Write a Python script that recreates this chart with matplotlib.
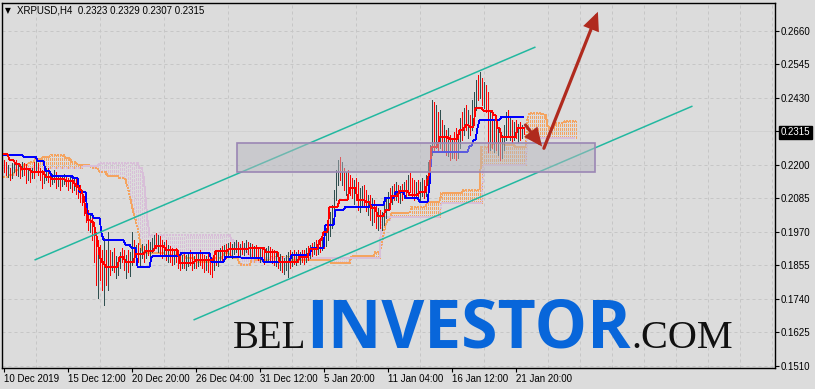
import numpy as np
import matplotlib
matplotlib.use("Agg")
import matplotlib.pyplot as plt
from matplotlib.patches import Rectangle, FancyArrowPatch, ArrowStyle

# ---------------- data (XRPUSD H4) ----------------
open0 = 0.2210
highs = [
    .2217, .2210, .2200, .2190, .2207, .2217, .2217, .2200, .2197, .2210,
    .2207, .2203, .2183, .2183, .2190, .2210, .2217, .2207, .2190, .2183,
    .2176, .2190, .2190, .2176, .2169, .2183, .2176, .2162, .2166, .2162,
    .2169, .2166, .2155, .2162, .2155, .2159, .2155, .2142, .2131, .2114,
    .2094, .2063, .2045, .2028, .2018, .1994, .1970, .1942, .1925, .1908,
    .1949, .1908, .1970, .1908, .1901, .1915, .1887, .1881, .1901, .1915,
    .1908, .1891, .1908, .1901, .1970, .1942, .1925, .1932, .1915, .1929,
    .1922, .1929, .1942, .1935, .1949, .1960, .1966, .1960, .1956, .1942,
    .1935, .1942, .1925, .1922, .1915, .1908, .1915, .1908, .1901, .1891,
    .1901, .1891, .1901, .1908, .1894, .1887, .1894, .1901, .1908, .1901,
    .1891, .1887, .1894, .1881, .1881, .1891, .1908, .1908, .1915, .1922,
    .1925, .1929, .1932, .1935, .1929, .1935, .1942, .1935, .1929, .1939,
    .1932, .1942, .1935, .1932, .1929, .1922, .1925, .1918, .1915, .1915,
    .1908, .1915, .1922, .1918, .1911, .1908, .1901, .1901, .1894, .1887,
    .1881, .1891, .1901, .1908, .1901, .1908, .1901, .1908, .1901, .1908,
    .1908, .1915, .1922, .1925, .1932, .1935, .1942, .1939, .1949, .1956,
    .1963, .1984, .2004, .2039, .2063, .2114, .2183, .2217, .2228, .2210,
    .2190, .2176, .2183, .2166, .2155, .2149, .2155, .2142, .2121, .2128,
    .2131, .2114, .2097, .2097, .2087, .2080, .2063, .2052, .2045, .2039,
    .2063, .2087, .2107, .2121, .2128, .2135, .2142, .2131, .2128, .2135,
    .2142, .2149, .2166, .2173, .2155, .2149, .2142, .2149, .2142, .2155,
    .2149, .2166, .2210, .2269, .2423, .2417, .2406, .2382, .2389, .2355,
    .2337, .2320, .2327, .2303, .2293, .2313, .2327, .2303, .2362, .2382,
    .2396, .2406, .2389, .2372, .2423, .2451, .2492, .2509, .2520, .2499,
    .2485, .2475, .2451, .2389, .2382, .2355, .2337, .2327, .2320, .2303,
    .2337, .2382, .2389, .2362, .2355, .2348, .2355, .2341, .2348, .2337,
    .2329]
lows = [
    .2176, .2166, .2159, .2149, .2155, .2176, .2166, .2162, .2155, .2162,
    .2166, .2138, .2149, .2142, .2155, .2155, .2183, .2166, .2149, .2121,
    .2138, .2149, .2142, .2128, .2135, .2142, .2121, .2128, .2114, .2128,
    .2135, .2128, .2114, .2121, .2107, .2114, .2100, .2087, .2073, .2063,
    .2028, .2004, .1977, .1970, .1942, .1867, .1788, .1743, .1805, .1771,
    .1719, .1788, .1771, .1822, .1839, .1832, .1812, .1822, .1846, .1867,
    .1839, .1812, .1832, .1819, .1856, .1867, .1874, .1867, .1856, .1881,
    .1867, .1881, .1891, .1887, .1901, .1908, .1915, .1901, .1891, .1881,
    .1887, .1874, .1867, .1867, .1856, .1860, .1867, .1846, .1839, .1846,
    .1846, .1839, .1853, .1856, .1839, .1846, .1846, .1853, .1856, .1846,
    .1832, .1839, .1832, .1826, .1815, .1839, .1856, .1853, .1867, .1874,
    .1881, .1881, .1887, .1891, .1881, .1894, .1901, .1887, .1887, .1894,
    .1891, .1901, .1894, .1887, .1887, .1881, .1881, .1874, .1867, .1874,
    .1860, .1867, .1874, .1867, .1863, .1856, .1853, .1846, .1839, .1832,
    .1826, .1839, .1815, .1846, .1853, .1860, .1856, .1867, .1860, .1867,
    .1860, .1867, .1874, .1881, .1887, .1894, .1891, .1894, .1901, .1908,
    .1915, .1922, .1942, .1956, .1984, .2028, .2080, .2131, .2149, .2131,
    .2114, .2097, .2121, .2097, .2087, .2066, .2080, .2045, .2039, .2059,
    .2063, .2042, .2028, .2011, .1994, .2004, .1984, .1977, .1984, .1977,
    .1994, .2018, .2045, .2063, .2066, .2080, .2080, .2073, .2069, .2080,
    .2087, .2087, .2097, .2107, .2087, .2080, .2087, .2094, .2080, .2094,
    .2087, .2094, .2131, .2166, .2234, .2252, .2258, .2252, .2258, .2245,
    .2252, .2234, .2231, .2217, .2224, .2224, .2217, .2224, .2258, .2286,
    .2303, .2320, .2293, .2303, .2320, .2337, .2389, .2423, .2430, .2406,
    .2396, .2382, .2245, .2252, .2258, .2245, .2252, .2234, .2217, .2224,
    .2252, .2286, .2303, .2286, .2279, .2286, .2293, .2279, .2286, .2293,
    .2307]
closes = [
    .2190, .2183, .2190, .2166, .2200, .2210, .2176, .2190, .2169, .2203,
    .2183, .2155, .2176, .2162, .2183, .2176, .2210, .2176, .2159, .2142,
    .2169, .2176, .2155, .2138, .2162, .2173, .2135, .2155, .2149, .2155,
    .2162, .2142, .2128, .2149, .2121, .2142, .2114, .2100, .2087, .2080,
    .2039, .2018, .1994, .2011, .1956, .1891, .1839, .1867, .1832, .1788,
    .1881, .1839, .1891, .1856, .1867, .1846, .1856, .1867, .1887, .1881,
    .1856, .1874, .1846, .1867, .1925, .1891, .1908, .1881, .1891, .1908,
    .1887, .1915, .1908, .1922, .1929, .1942, .1925, .1935, .1908, .1901,
    .1922, .1891, .1908, .1881, .1874, .1894, .1881, .1867, .1856, .1881,
    .1860, .1867, .1881, .1867, .1853, .1874, .1867, .1887, .1874, .1860,
    .1846, .1874, .1853, .1846, .1839, .1881, .1874, .1894, .1901, .1894,
    .1915, .1901, .1922, .1908, .1915, .1922, .1929, .1901, .1915, .1908,
    .1918, .1922, .1908, .1915, .1901, .1908, .1894, .1887, .1901, .1887,
    .1881, .1901, .1908, .1887, .1881, .1867, .1881, .1856, .1867, .1846,
    .1856, .1867, .1887, .1867, .1881, .1874, .1887, .1881, .1891, .1887,
    .1881, .1901, .1894, .1915, .1908, .1922, .1908, .1929, .1922, .1942,
    .1929, .1970, .1990, .2028, .2052, .2097, .2166, .2190, .2166, .2183,
    .2131, .2149, .2135, .2121, .2107, .2131, .2097, .2063, .2087, .2107,
    .2080, .2063, .2080, .2028, .2045, .2018, .2004, .2018, .1994, .2011,
    .2045, .2073, .2094, .2080, .2107, .2100, .2121, .2094, .2107, .2097,
    .2121, .2107, .2142, .2121, .2114, .2097, .2121, .2107, .2114, .2131,
    .2100, .2149, .2190, .2252, .2372, .2286, .2355, .2279, .2320, .2269,
    .2303, .2258, .2286, .2245, .2269, .2252, .2234, .2279, .2337, .2313,
    .2372, .2337, .2355, .2320, .2406, .2423, .2465, .2441, .2485, .2423,
    .2458, .2396, .2286, .2320, .2279, .2303, .2269, .2286, .2234, .2269,
    .2313, .2355, .2320, .2337, .2293, .2327, .2307, .2320, .2300, .2323,
    .2315]

# Ichimoku lines (bar index where the level starts, value)
tenkan_start = [0, 3, 6, 9, 14, 21, 24, 31, 36, 38, 40, 41, 42, 44, 46, 47, 48, 49, 51, 58,
                61, 66, 71, 76, 81, 88, 96, 106, 113, 123, 131, 138, 148, 153, 158, 160,
                163, 168, 173, 177, 181, 184, 187, 191, 194, 198, 203, 208, 212, 213, 214,
                218, 223, 228, 231, 233, 236, 240, 245, 247, 249, 257]
tenkan_value = [.2238, .2217, .2203, .2186, .2176, .2159, .2152, .2145, .2128, .2114, .2087,
                .2052, .2011, .2004, .1970, .1942, .1891, .1867, .1850, .1884, .1867, .1894,
                .1905, .1922, .1908, .1863, .1874, .1905, .1911, .1915, .1901, .1867, .1884,
                .1911, .1942, .1970, .2056, .2080, .2121, .2080, .2073, .2052, .2025, .2045,
                .2094, .2111, .2097, .2107, .2150, .2175, .2262, .2296, .2289, .2320, .2337,
                .2331, .2396, .2386, .2372, .2327, .2296, .2327]
kijun_start = [0, 10, 17, 21, 24, 35, 38, 42, 45, 49, 50, 61, 64, 67, 74, 75, 89, 104, 111,
               119, 130, 144, 154, 161, 166, 171, 184, 191, 196, 201, 208, 213, 214, 233,
               235, 237, 238, 249]
kijun_value = [.2234, .2228, .2214, .2179, .2162, .2155, .2107, .2032, .2018, .1966, .1942,
               .1925, .1915, .1850, .1884, .1887, .1898, .1867, .1884, .1881, .1867, .1891,
               .1915, .1994, .2045, .2056, .2063, .2087, .2107, .2087, .2073, .2131, .2245,
               .2265, .2286, .2327, .2355, .2365]
spanA_start = [0, 3, 6, 10, 13, 16, 20, 24, 31, 34, 37, 44, 48, 52, 58, 61, 62, 63, 64, 65,
               66, 67, 68, 69, 70, 81, 91, 96, 104, 110, 114, 118, 119, 124, 134, 144, 164,
               174, 186, 189, 190, 191, 192, 194, 204, 212, 219, 230, 239, 245, 250, 256,
               262, 263, 270, 272, 273, 276, 281]
spanA_value = [.2159, .2166, .2183, .2200, .2210, .2221, .2228, .2234, .2224, .2210, .2200,
               .2190, .2176, .2162, .2155, .2149, .2125, .2097, .2063, .2035, .2011, .1984,
               .1942, .1908, .1898, .1891, .1881, .1867, .1881, .1898, .1881, .1863, .1856,
               .1874, .1884, .1874, .1863, .1887, .1901, .1925, .1960, .1994, .2011, .2035,
               .2056, .2073, .2104, .2114, .2262, .2276, .2269, .2262, .2355, .2379, .2372,
               .2337, .2327, .2344, .2351]
spanB_start = [0, 40, 48, 68, 70, 71, 72, 73, 114, 116, 118, 122, 125, 131, 189, 219, 240, 262]
spanB_value = [.2190, .2197, .2207, .2190, .2160, .2090, .2010, .1960, .1942, .1925, .1915,
               .1891, .1867, .1881, .2021, .2069, .2200, .2293]

date_ticks = [0, 32, 64, 96, 128, 160, 192, 224, 256]
date_labels = ["10 Dec 2019", "15 Dec 12:00", "20 Dec 20:00", "26 Dec 04:00",
               "31 Dec 12:00", "5 Jan 20:00", "11 Jan 04:00", "16 Jan 12:00", "21 Jan 20:00"]
price_ticks = [0.1510, 0.1625, 0.1740, 0.1855, 0.1970, 0.2085, 0.2200,
               0.2315, 0.2430, 0.2545, 0.2660]
last_price = 0.2315
title_text = "XRPUSD,H4  0.2323 0.2329 0.2307 0.2315"

# drawn annotations (bar index, price)
channel_upper = ((15.5, 0.1873), (266.0, 0.2605))
channel_lower = ((95.0, 0.1667), (344.5, 0.2402))
zone_x = (116.5, 295.5)
zone_y = (0.2176, 0.2275)
arrow_short = ((261.0, 0.2337), (269.3, 0.2263))
arrow_long = ((270.2, 0.2257), (297.2, 0.2726))

# ---------------- helpers ----------------
def levels(starts, values, n):
    idx = np.arange(n)
    pos = np.searchsorted(np.array(starts), idx, side="right") - 1
    return np.array(values)[pos]

n_bars = len(closes)
assert len(highs) == n_bars and len(lows) == n_bars
H = np.array(highs); L = np.array(lows); C = np.array(closes)
O = np.concatenate([[open0], C[:-1]])
xb = np.arange(n_bars)
tenkan = levels(tenkan_start, tenkan_value, n_bars)
kijun = levels(kijun_start, kijun_value, n_bars)
n_cloud = n_bars + 26
spanA = levels(spanA_start, spanA_value, n_cloud)
spanB = levels(spanB_start, spanB_value, n_cloud)
xc = np.arange(n_cloud)

# ---------------- figure ----------------
BG = "#DCDCDC"
W, Hpx = 815, 389
fig = plt.figure(figsize=(W / 100, Hpx / 100), dpi=100, facecolor=BG)
ax = fig.add_axes([2 / W, 1 - 368 / Hpx, 772.5 / W, 365.5 / Hpx], facecolor=BG)
ax.set_xlim(-0.75, 385.5)
ax.set_ylim(0.150207, 0.275793)

FONT = ["Liberation Sans", "DejaVu Sans"]

# grid
ax.set_xticks(np.arange(0, 385, 16), minor=True)
ax.grid(which="minor", axis="x", color="#C6C6C6", lw=0.72, ls=(0, (3, 3)))
ax.grid(which="major", axis="y", color="#C6C6C6", lw=0.72, ls=(0, (3, 3)))
ax.set_axisbelow(True)

# bid line
ax.axhline(last_price, color="#D2D2D2", lw=0.7, zorder=1)

# cloud hatch
sandy, thistle = "#F4A460", "#D8BFD8"
hatch_cols = np.where(spanA >= spanB, sandy, thistle)
ax.vlines(xc, np.minimum(spanA, spanB), np.maximum(spanA, spanB), colors=hatch_cols,
          lw=0.5, linestyles=[(0, (3.0, 2.0))], zorder=2, antialiased=False)
ax.plot(xc, spanA, color=sandy, lw=0.6, ls=(0, (1.5, 1.5)), zorder=2.1, antialiased=False)
ax.plot(xc, spanB, color=thistle, lw=0.6, ls=(0, (1.5, 1.5)), zorder=2.1, antialiased=False)

# bars
up_col, dn_col = "#2F4F4F", "#FF0000"
bar_cols = np.where(C >= O, up_col, dn_col)
ax.vlines(xb, L, H, colors=bar_cols, lw=0.5, zorder=3, antialiased=False)

# tenkan / kijun
ax.plot(xb, kijun, color="#0000FF", lw=0.6, zorder=4, antialiased=False)
ax.plot(xb, tenkan, color="#FF0000", lw=0.6, zorder=4.1, antialiased=False)

# channel lines
ch_col = "#22B8A0"
for (p0, p1) in (channel_upper, channel_lower):
    ax.plot([p0[0], p1[0]], [p0[1], p1[1]], color=ch_col, lw=1.1, zorder=5,
            solid_capstyle="butt")

# zone rectangle
ax.add_patch(Rectangle((zone_x[0], zone_y[0]), zone_x[1] - zone_x[0], zone_y[1] - zone_y[0],
                       facecolor=(0.72, 0.72, 0.75, 0.5), edgecolor="#9B86B4", lw=1.2,
                       zorder=6))

# arrows
arr_col = "#B02A1E"
for (p0, p1) in (arrow_short, arrow_long):
    ax.add_patch(FancyArrowPatch(p0, p1,
                                 arrowstyle=ArrowStyle("-|>", head_length=9.5, head_width=4.3),
                                 mutation_scale=1, lw=2.3, color=arr_col, shrinkA=0,
                                 shrinkB=0, zorder=7, joinstyle="miter"))

# axes styling
for s in ax.spines.values():
    s.set_color("black"); s.set_linewidth(1.0)
ax.yaxis.tick_right()
ax.set_yticks(price_ticks)
ax.set_yticklabels([f"{v:.4f}" for v in price_ticks])
ax.set_xticks(date_ticks)
ax.set_xticklabels(date_labels)
ax.tick_params(axis="both", which="major", direction="out", length=3, width=0.8,
               colors="black", labelsize=7, pad=1.5)
ax.tick_params(axis="x", which="minor", length=0)
for lbl in ax.get_xticklabels():
    lbl.set_horizontalalignment("left"); lbl.set_fontfamily(FONT)
for lbl in ax.get_yticklabels():
    lbl.set_fontfamily(FONT)
ylbls = ax.get_yticklabels()
hl = ylbls[price_ticks.index(last_price)]
hl.set_color("white")
hl.set_bbox(dict(boxstyle="square,pad=0.18", facecolor="black", edgecolor="black"))

# title
fig.text(5 / W, 1 - 10.5 / Hpx, "\u25BC", fontsize=5.5, family="DejaVu Sans",
         va="center", ha="left", color="black")
fig.text(17 / W, 1 - 10.5 / Hpx, title_text, fontsize=7, family=FONT,
         va="center", ha="left", color="black")

# watermark
base_y = 1 - 348 / Hpx
fig.text(233 / W, base_y, "BEL", fontsize=28, family="Liberation Serif",
         color="#111111", va="baseline", ha="left", zorder=1)
fig.text(306 / W, base_y, "INVESTOR", fontsize=47.5, family="Open Sans", weight="bold",
         color="#0866DA", va="baseline", ha="left", zorder=1)
fig.text(631 / W, base_y, ".COM", fontsize=29, family="Liberation Serif",
         color="#111111", va="baseline", ha="left", zorder=1)

fig.savefig("out.png", dpi=100, facecolor=BG)
